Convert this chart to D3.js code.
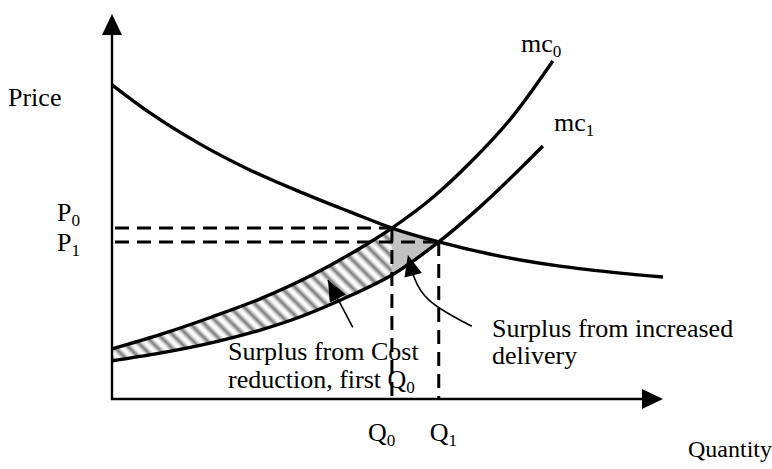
<!DOCTYPE html>
<html>
<head>
<meta charset="utf-8">
<script src="https://cdn.jsdelivr.net/npm/d3@7"></script>
<style>
  html, body { margin: 0; padding: 0; background: #fff; }
  text { font-family: "Liberation Serif", "Times New Roman", serif; fill: #000; }
</style>
</head>
<body>
<svg id="chart" width="772" height="469"></svg>
<script>
// Demand curve (quantity, price), arbitrary units 0–10
const demandQ = [0, 0.69, 1.60, 2.50, 3.41, 4.32, 5.08, 5.93, 7.04, 8.13, 9.22, 10.0];
const demandP = [8.16, 7.43, 6.62, 5.95, 5.38, 4.86, 4.44, 4.08, 3.71, 3.45, 3.27, 3.17];

// Marginal cost before (mc0) and after (mc1) the cost reduction
const mc0Q = [0, 0.91, 1.81, 2.72, 3.63, 4.54, 5.08, 5.81, 6.53, 7.26, 8.00];
const mc0P = [1.30, 1.69, 2.13, 2.62, 3.22, 3.95, 4.44, 5.22, 6.18, 7.32, 8.78];
const mc1Q = [0, 0.87, 1.78, 2.69, 3.41, 4.32, 5.08, 5.93, 6.68, 7.40, 7.82];
const mc1P = [0.99, 1.19, 1.45, 1.79, 2.13, 2.68, 3.22, 4.08, 4.99, 5.97, 6.57];

// Equilibria
const eqQ = [5.08, 5.93];   // Q0, Q1
const eqP = [4.44, 4.08];   // P0, P1
const eqNames = ["0", "1"];

// Annotation arrows: [quantity, price] anchors
const costArrow = [[4.37, 1.86], [3.92, 3.09]];
const deliveryArrow = [[6.53, 1.89], [5.64, 2.56], [5.46, 3.25], [5.37, 3.74]];

const svg = d3.select("#chart");
const x = d3.scaleLinear().domain([0, 10]).range([112, 663]);
const y = d3.scaleLinear().domain([0, 10]).range([399, 14]);

const defs = svg.append("defs");

// Soft diagonal stripes for the cost-reduction surplus
const grad = defs.append("linearGradient").attr("id", "stripeGrad")
  .attr("x1", "0").attr("x2", "1").attr("y1", "0").attr("y2", "0");
grad.append("stop").attr("offset", "0").attr("stop-color", "#ffffff");
grad.append("stop").attr("offset", "0.2").attr("stop-color", "#f4f4f4");
grad.append("stop").attr("offset", "0.55").attr("stop-color", "#7c7c7c");
grad.append("stop").attr("offset", "0.9").attr("stop-color", "#f4f4f4");
grad.append("stop").attr("offset", "1").attr("stop-color", "#ffffff");
const pat = defs.append("pattern").attr("id", "hatch")
  .attr("patternUnits", "userSpaceOnUse").attr("width", 10).attr("height", 10)
  .attr("patternTransform", "rotate(-45)");
pat.append("rect").attr("width", 10).attr("height", 10).attr("fill", "url(#stripeGrad)");

const pts = (qs, ps) => qs.map((q, i) => [q, ps[i]]);
const demand = pts(demandQ, demandP);
const mc0 = pts(mc0Q, mc0P);
const mc1 = pts(mc1Q, mc1P);

const line = d3.line().x(d => x(d[0])).y(d => y(d[1])).curve(d3.curveMonotoneX);
const under = d3.area().x(d => x(d[0])).y0(y(0)).y1(d => y(d[1])).curve(d3.curveMonotoneX);
const over = d3.area().x(d => x(d[0])).y0(y(10)).y1(d => y(d[1])).curve(d3.curveMonotoneX);

// Clip regions
defs.append("clipPath").attr("id", "aboveMc1").append("path").attr("d", over(mc1));
defs.append("clipPath").attr("id", "leftOfQ0").append("rect")
  .attr("x", x(0)).attr("y", y(10)).attr("width", x(eqQ[0]) - x(0)).attr("height", y(0) - y(10));
defs.append("clipPath").attr("id", "q0toQ1").append("rect")
  .attr("x", x(eqQ[0])).attr("y", y(10)).attr("width", x(eqQ[1]) - x(eqQ[0])).attr("height", y(0) - y(10));

// Hatched band between mc0 and mc1 up to Q0
svg.append("g").attr("clip-path", "url(#aboveMc1)")
  .append("path").attr("d", under(mc0)).attr("fill", "url(#hatch)")
  .attr("clip-path", "url(#leftOfQ0)");

// Grey triangle between demand and mc1 from Q0 to Q1
svg.append("g").attr("clip-path", "url(#aboveMc1)")
  .append("path").attr("d", under(demand)).attr("fill", "#c2c2c2")
  .attr("clip-path", "url(#q0toQ1)");

// Curves
[demand, mc0, mc1].forEach(c => {
  svg.append("path").attr("d", line(c)).attr("fill", "none")
    .attr("stroke", "#000").attr("stroke-width", 3.4);
});

// Labels
function subLabel(tx, ty, main, sub, size) {
  const t = svg.append("text").attr("x", tx).attr("y", ty).attr("font-size", size);
  t.append("tspan").text(main);
  t.append("tspan").attr("font-size", size * 0.66).attr("dy", size * 0.18).text(sub);
  return t;
}
svg.append("text").attr("x", 8).attr("y", 106).attr("font-size", 26).text("Price");
svg.append("text").attr("x", 688).attr("y", 457).attr("font-size", 24).text("Quantity");
subLabel(57, y(eqP[0]) - 7, "P", eqNames[0], 26);
subLabel(57, y(eqP[1]) + 9, "P", eqNames[1], 26);
subLabel(x(eqQ[0]) - 24, 441, "Q", eqNames[0], 26);
subLabel(x(eqQ[1]) - 9, 441, "Q", eqNames[1], 26);
subLabel(521, 52, "mc", "0", 26);
subLabel(554, 131, "mc", "1", 26);

svg.append("text").attr("x", 228).attr("y", 360).attr("font-size", 26).text("Surplus from Cost");
subLabel(228, 388, "reduction, first Q", "0", 26);
svg.append("text").attr("x", 492).attr("y", 337).attr("font-size", 26).text("Surplus from increased");
svg.append("text").attr("x", 492).attr("y", 364).attr("font-size", 26).text("delivery");

// Dashed guides (drawn over the annotation text)
const dash = svg.append("g").attr("stroke", "#000").attr("stroke-width", 3)
  .attr("stroke-dasharray", "14,8").attr("fill", "none");
eqQ.forEach((q, i) => {
  dash.append("line").attr("x1", x(0) + 3).attr("x2", x(q)).attr("y1", y(eqP[i])).attr("y2", y(eqP[i]));
  dash.append("line").attr("x1", x(q)).attr("x2", x(q)).attr("y1", y(eqP[i])).attr("y2", y(0));
});

// Axes with arrowheads
const axes = svg.append("g");
axes.append("line").attr("x1", x(0)).attr("x2", x(0)).attr("y1", y(0) + 1).attr("y2", y(10) + 18)
  .attr("stroke", "#000").attr("stroke-width", 2.4);
axes.append("line").attr("x1", x(0) - 1).attr("x2", x(10) - 18).attr("y1", y(0)).attr("y2", y(0))
  .attr("stroke", "#000").attr("stroke-width", 2.4);
axes.append("path").attr("fill", "#000")
  .attr("d", `M${x(0)},${y(10)} L${x(0) - 10},${y(10) + 21} L${x(0) + 10},${y(10) + 21} Z`);
axes.append("path").attr("fill", "#000")
  .attr("d", `M${x(10)},${y(0)} L${x(10) - 21},${y(0) - 10} L${x(10) - 21},${y(0) + 10} Z`);

// Annotation arrows
function arrowHead(from, to, len, half) {
  const dx = to[0] - from[0], dy = to[1] - from[1];
  const L = Math.hypot(dx, dy), ux = dx / L, uy = dy / L;
  const bx = to[0] - ux * len, by = to[1] - uy * len;
  return `M${to[0]},${to[1]} L${bx - uy * half},${by + ux * half} L${bx + uy * half},${by - ux * half} Z`;
}
const px = d => [x(d[0]), y(d[1])];
const ca = costArrow.map(px);
svg.append("line").attr("x1", ca[0][0]).attr("y1", ca[0][1]).attr("x2", ca[1][0]).attr("y2", ca[1][1])
  .attr("stroke", "#000").attr("stroke-width", 1.6);
svg.append("path").attr("d", arrowHead(ca[0], ca[1], 21, 9)).attr("fill", "#000");

const da = deliveryArrow.map(px);
svg.append("path").attr("d", d3.line().curve(d3.curveBasis)(da.slice(0, 3).concat([da[2]])))
  .attr("fill", "none").attr("stroke", "#000").attr("stroke-width", 1.6);
svg.append("path").attr("d", arrowHead(da[2], da[3], 21, 9)).attr("fill", "#000");
</script>
</body>
</html>
